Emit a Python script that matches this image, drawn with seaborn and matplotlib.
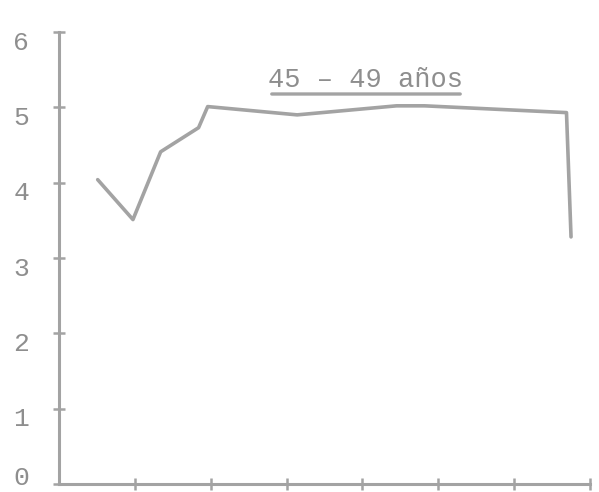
import matplotlib
matplotlib.use("Agg")
import matplotlib.pyplot as plt
import matplotlib.transforms as mtransforms
import seaborn as sns
import pandas as pd

# Data
x_vals = [0.51, 0.975, 1.34, 1.84, 1.96, 3.14, 4.45, 4.82, 6.69, 6.75]
y_vals = [4.04, 3.51, 4.41, 4.73, 5.01, 4.90, 5.02, 5.02, 4.93, 3.28]
y_ticks = [0, 1, 2, 3, 4, 5, 6]
y_tick_labels = ["0", "1", "2", "3", "4", "5", "6"]
x_ticks = [1, 2, 3, 4, 5, 6, 7]
title_text = "45 – 49 años"

sns.set_theme(style="white")
plt.rcParams["font.family"] = ["Liberation Mono", "DejaVu Sans Mono"]

ink = "#a3a3a3"
text_ink = "#8e8e8e"

df = pd.DataFrame({"x": x_vals, "y": y_vals})

fig = plt.figure(figsize=(5.99, 4.92), dpi=100)
ax = fig.add_axes([59 / 599, 1 - 484 / 492, (590 - 59) / 599, (484 - 32) / 492])

sns.lineplot(data=df, x="x", y="y", sort=False, ax=ax, color=ink, linewidth=2.6)

ax.set_xlim(0, 7)
ax.set_ylim(0, 6)
ax.set_xlabel("")
ax.set_ylabel("")
for s in ["top", "right"]:
    ax.spines[s].set_visible(False)
for s in ["left", "bottom"]:
    ax.spines[s].set_color(ink)
    ax.spines[s].set_linewidth(2.2)

ax.set_yticks(y_ticks)
ax.set_yticklabels(y_tick_labels)
ax.set_xticks(x_ticks)
ax.set_xticklabels([])
ax.tick_params(axis="y", direction="inout", length=9, width=1.8, color=ink,
               pad=17, labelsize=19, labelcolor=text_ink)
ax.tick_params(axis="x", direction="inout", length=8, width=1.8, color=ink)
ax.yaxis.set_ticks_position("left")
ax.xaxis.set_ticks_position("bottom")

for lab in ax.get_yticklabels():
    dy = -8 if lab.get_text() != "0" else -6
    off = mtransforms.ScaledTranslation(0, dy / 100, fig.dpi_scale_trans)
    lab.set_transform(lab.get_transform() + off)
    if lab.get_text() == "0":
        lab.set_verticalalignment("bottom")

ax.text(366 / 599, 1 - 80 / 492, title_text, transform=fig.transFigure,
        ha="center", va="center", fontsize=19.5, color=text_ink)
# underline beneath the title
ax.annotate("", xy=(463 / 599, 1 - 94 / 492), xytext=(269 / 599, 1 - 94 / 492),
            xycoords=fig.transFigure, textcoords=fig.transFigure,
            arrowprops=dict(arrowstyle="-", color=ink, lw=2.4))

ax.grid(False)
fig.patch.set_facecolor("white")
ax.set_facecolor("white")
for sp in ax.spines.values():
    sp.set_clip_on(False)

fig.savefig("out.png", dpi=100)
